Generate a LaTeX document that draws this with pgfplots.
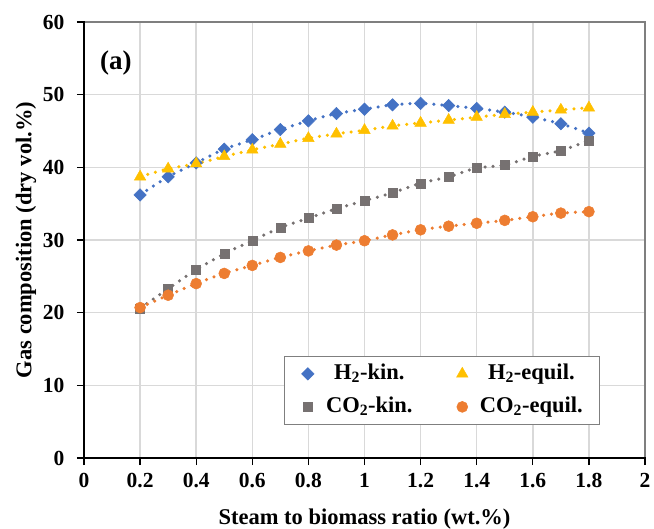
\documentclass[border=0pt]{standalone}
\usepackage{pgfplots}
\pgfplotsset{compat=1.18}
\usepackage{fontspec}
\setmainfont{Liberation Serif}
\definecolor{cblue}{HTML}{4472C4}
\definecolor{cgold}{HTML}{FFC000}
\definecolor{cgray}{HTML}{767171}
\definecolor{corange}{HTML}{ED7D31}
\definecolor{cgrid}{HTML}{D9D9D9}
\definecolor{cframe}{HTML}{7F7F7F}
\pgfplotstableread{
x h2kin h2eq co2kin co2eq
0.2 36.2 38.7 20.6 20.7
0.3 38.7 39.8 23.3 22.4
0.4 40.6 40.5 25.9 24.0
0.5 42.5 41.5 28.1 25.4
0.6 43.8 42.4 29.9 26.5
0.7 45.2 43.2 31.7 27.6
0.8 46.4 44.0 33.0 28.5
0.9 47.4 44.6 34.3 29.3
1.0 48.0 45.1 35.4 29.9
1.1 48.6 45.7 36.5 30.7
1.2 48.8 46.1 37.8 31.4
1.3 48.5 46.5 38.7 31.9
1.4 48.1 46.9 39.9 32.3
1.5 47.6 47.3 40.3 32.7
1.6 46.9 47.6 41.5 33.2
1.7 46.0 47.9 42.3 33.7
1.8 44.7 48.2 43.7 33.9
}\datatable
\begin{document}
\begin{tikzpicture}
\begin{axis}[
  scale only axis,
  width=561bp, height=436bp,
  xmin=0, xmax=2, ymin=0, ymax=60,
  xtick={0,0.2,...,2.01}, ytick={0,10,...,60},
  xticklabels={0,0.2,0.4,0.6,0.8,1,1.2,1.4,1.6,1.8,2},
  font=\fontsize{21.5bp}{26bp}\selectfont\bfseries,
  /pgf/number format/assume math mode=true,
  tick label style={font=\fontsize{21.5bp}{26bp}\selectfont\bfseries},
  yticklabel style={xshift=-9bp},
  xticklabel style={yshift=-5bp},
  tick pos=left, tick align=outside,
  major tick length=7bp,
  tick style={black, line width=1.3bp},
  grid=major,
  major grid style={cgrid, line width=1.5bp},
  axis line style={cframe, line width=1.3bp},
  xlabel={Steam to biomass ratio (wt.\%)},
  ylabel={Gas composition (dry vol.\%)},
  xlabel style={font=\fontsize{22.5bp}{27bp}\selectfont\bfseries, yshift=-14bp},
  ylabel style={font=\fontsize{22.5bp}{27bp}\selectfont\bfseries, yshift=0bp},
  legend columns=2,
  legend style={
    at={(rel axis cs:0.3565,0.0757)}, anchor=south west,
    draw=cframe, line width=1.2bp,
    font=\fontsize{22.5bp}{27bp}\selectfont\bfseries,
    inner xsep=17bp, inner ysep=7bp,
    row sep=12bp,
    nodes={inner sep=0pt, text height=16bp, text depth=5bp},
    /tikz/every odd column/.append style={column sep=12bp},
    /tikz/every even column/.append style={column sep=44bp},
  },
  legend image code/.code={\draw[#1] plot coordinates {(0bp,0bp)};},
]
\addplot[forget plot, cblue, line width=3.5bp, line cap=round, dash pattern=on 0bp off 8bp, smooth] table[x=x,y=h2kin]{\datatable};
\addplot[forget plot, cgold, line width=3.5bp, line cap=round, dash pattern=on 0bp off 8bp, smooth] table[x=x,y=h2eq]{\datatable};
\addplot[forget plot, cgray, line width=3.5bp, line cap=round, dash pattern=on 0bp off 8bp, smooth] table[x=x,y=co2kin]{\datatable};
\addplot[forget plot, corange, line width=3.5bp, line cap=round, dash pattern=on 0bp off 8bp, smooth] table[x=x,y=co2eq]{\datatable};
\addplot[only marks, mark=square*, mark size=4.4bp, mark options={rotate=45, fill=cblue, draw=cblue, line width=0.5bp}] table[x=x,y=h2kin]{\datatable};
\addlegendentry{H\textsubscript{2}-kin.}
\addplot[only marks, mark=triangle*, mark size=6.6bp, mark options={fill=cgold, draw=cgold, line width=0.5bp}] table[x=x,y=h2eq]{\datatable};
\addlegendentry{H\textsubscript{2}-equil.}
\addplot[only marks, mark=square*, mark size=4.5bp, mark options={fill=cgray, draw=cgray, line width=0.5bp}] table[x=x,y=co2kin]{\datatable};
\addlegendentry{CO\textsubscript{2}-kin.}
\addplot[only marks, mark=*, mark size=5.5bp, mark options={fill=corange, draw=corange, line width=0.5bp}] table[x=x,y=co2eq]{\datatable};
\addlegendentry{CO\textsubscript{2}-equil.}
\node[anchor=west, inner sep=0pt, font=\fontsize{27bp}{32bp}\selectfont\bfseries] at (rel axis cs:0.0285,0.905) {(a)};
\end{axis}
\draw[black, line width=2bp, line cap=rect] (current axis.north west) -- (current axis.south west) -- (current axis.south east);
\pgfresetboundingbox
\path ([shift={(-84bp,-71bp)}]current axis.south west) rectangle ([shift={(9bp,22bp)}]current axis.north east);
\end{tikzpicture}
\end{document}
